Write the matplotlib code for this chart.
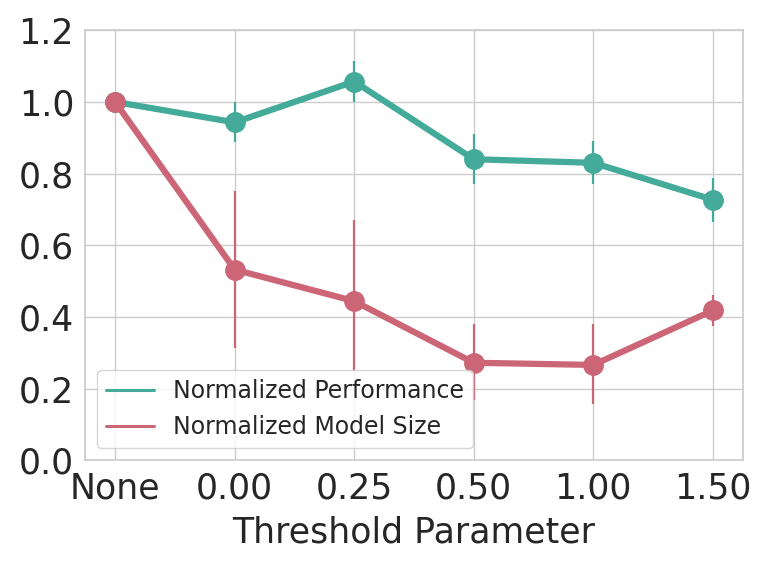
import numpy as np
import matplotlib
matplotlib.use('Agg')
import matplotlib.pyplot as plt
import seaborn as sns

thresholds = ['None', '0.00', '0.25', '0.50', '1.00', '1.50']

perf_mean = [1.0, 0.943, 1.057, 0.840, 0.830, 0.727]
perf_low = [1.0, 0.889, 1.0, 0.77, 0.77, 0.665]
perf_high = [1.0, 1.0, 1.114, 0.91, 0.891, 0.789]

size_mean = [1.0, 0.532, 0.444, 0.272, 0.266, 0.418]
size_low = [1.0, 0.312, 0.25, 0.167, 0.156, 0.374]
size_high = [1.0, 0.752, 0.67, 0.38, 0.38, 0.461]

sns.set_theme(style='whitegrid')

teal = '#44AA99'
rose = '#CC6677'

fig = plt.figure(figsize=(7.61, 5.71), dpi=100)
ax = fig.add_subplot(111)
fig.subplots_adjust(left=0.112, right=0.976, top=0.947, bottom=0.194)

x = np.arange(len(thresholds))

#-----------------------------------------------
for mean, low, high, col in [(perf_mean, perf_low, perf_high, teal),
                             (size_mean, size_low, size_high, rose)]:
    mean = np.array(mean)
    err = [mean - np.array(low), np.array(high) - mean]
    ax.errorbar(x, mean, yerr=err, fmt='none', ecolor=col, elinewidth=1.6, zorder=2)
    ax.plot(x, mean, color=col, linewidth=4.5, marker='o', markersize=14, zorder=3)

ax.plot([], [], color=teal, linewidth=2.2, label='Normalized Performance')
ax.plot([], [], color=rose, linewidth=2.2, label='Normalized Model Size')

ax.set_xticks(x)
ax.set_xticklabels(thresholds)
ax.set_xlim(-0.25, 5.25)
ax.set_ylim(0, 1.2)
ax.set_yticks(np.arange(0, 1.21, 0.2))
ax.set_yticklabels(['0.0', '0.2', '0.4', '0.6', '0.8', '1.0', '1.2'])
ax.tick_params(axis='both', labelsize=25, pad=2)
ax.set_xlabel('Threshold Parameter', fontsize=25, labelpad=7)

ax.legend(loc='lower left', fontsize=17)

fig.savefig('out.png', dpi=100)
